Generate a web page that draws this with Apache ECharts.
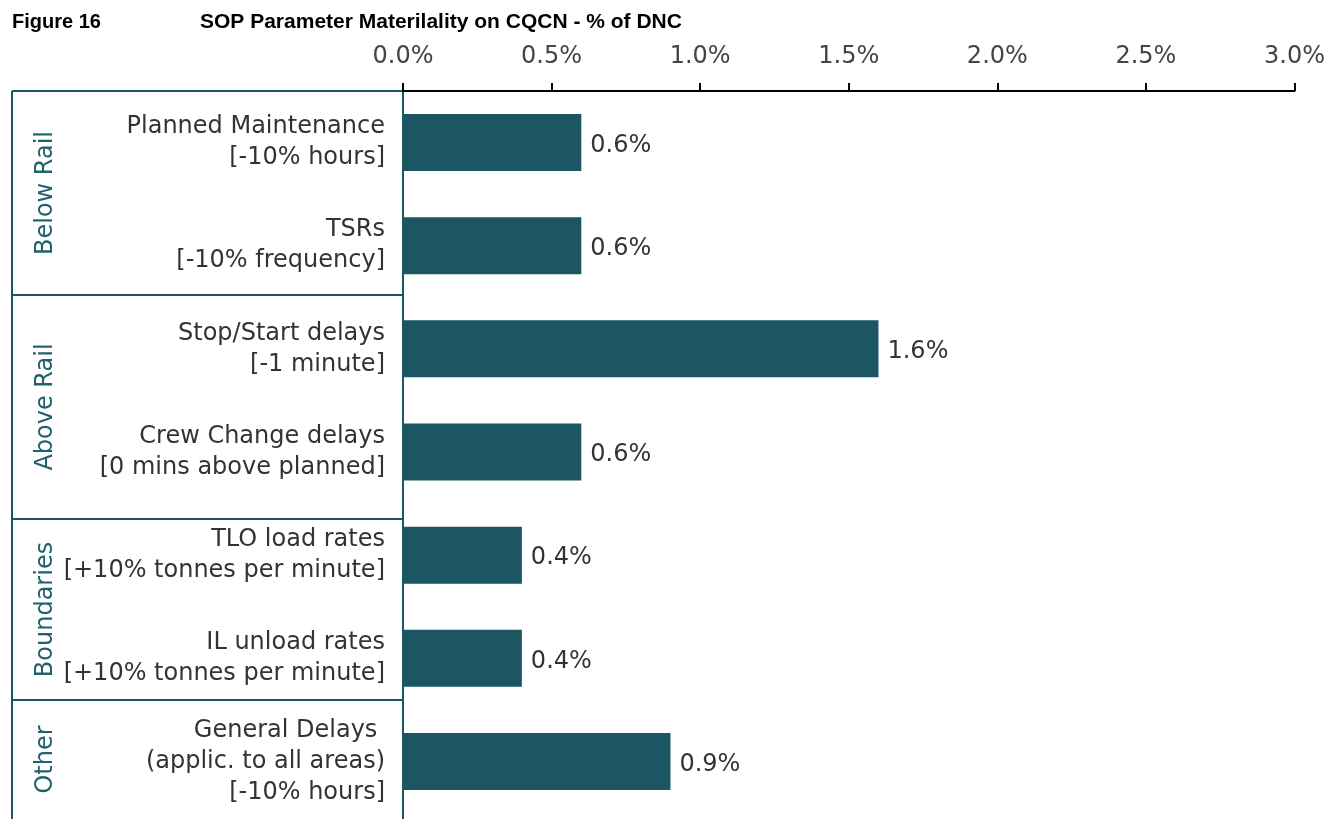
<!DOCTYPE html>
<html>
<head>
<meta charset="utf-8">
<title>SOP Parameter Materiality on CQCN</title>
<script src="https://cdn.jsdelivr.net/npm/echarts@6/dist/echarts.min.js"></script>
<style>
  html, body { margin: 0; padding: 0; background: #ffffff; }
  #chart { width: 1328px; height: 819px; }
</style>
</head>
<body>
<div id="chart"></div>
<script>
// Parameters tested, top to bottom
const categories = [
  'Planned Maintenance\n[-10% hours]',
  'TSRs\n[-10% frequency]',
  'Stop/Start delays\n[-1 minute]',
  'Crew Change delays\n[0 mins above planned]',
  'TLO load rates\n[+10% tonnes per minute]',
  'IL unload rates\n[+10% tonnes per minute]',
  'General Delays \n(applic. to all areas)\n[-10% hours]'
];
// Materiality, % of DNC
const values = [0.6, 0.6, 1.6, 0.6, 0.4, 0.4, 0.9];
// Axis ticks (%)
const xTicks = [0.0, 0.5, 1.0, 1.5, 2.0, 2.5, 3.0];
// Parameter groups shown in the left-hand box
const groups = ['Below Rail', 'Above Rail', 'Boundaries', 'Other'];

const TEAL = '#1c5662';
const TEXT = '#333333';
const FONT = '"DejaVu Sans", sans-serif';
const TITLE_FONT = '"Liberation Sans", Arial, sans-serif';

// Frame of the group box (pixel layout)
const boxLeft = 12, boxRight = 403, boxTop = 91, boxBottom = 819;
const dividers = [boxTop, 295, 519, 700, boxBottom];

const chart = echarts.init(document.getElementById('chart'), null, { renderer: 'canvas' });

const graphics = [
  { type: 'text', x: 12, y: 22,
    style: { text: 'Figure 16', font: 'bold 20px ' + TITLE_FONT, fill: '#000', verticalAlign: 'middle' } },
  { type: 'text', x: 200, y: 22,
    style: { text: 'SOP Parameter Materilality on CQCN - % of DNC', font: 'bold 21px ' + TITLE_FONT, fill: '#000', verticalAlign: 'middle' } },
  { type: 'line', shape: { x1: boxLeft, y1: boxTop, x2: boxLeft, y2: boxBottom },
    style: { stroke: TEAL, lineWidth: 2 } },
  { type: 'line', shape: { x1: boxRight, y1: boxTop, x2: boxRight, y2: boxBottom },
    style: { stroke: TEAL, lineWidth: 2 } }
];
dividers.slice(0, -1).forEach(y => {
  graphics.push({ type: 'line', shape: { x1: boxLeft, y1: y, x2: boxRight, y2: y },
    style: { stroke: TEAL, lineWidth: 2 } });
});
groups.forEach((g, i) => {
  graphics.push({
    type: 'text', x: 46, y: (dividers[i] + dividers[i + 1]) / 2, rotation: Math.PI / 2,
    style: { text: g, font: '24px ' + FONT, fill: '#21616d', align: 'center', verticalAlign: 'middle' }
  });
});

chart.setOption({
  animation: false,
  grid: { left: 403, right: 33, top: 91, bottom: 6, containLabel: false },
  xAxis: {
    type: 'value', position: 'top', min: xTicks[0], max: xTicks[xTicks.length - 1],
    interval: xTicks[1] - xTicks[0],
    axisLine: { show: true, lineStyle: { color: '#000', width: 2 } },
    axisTick: { show: true, length: 8, lineStyle: { color: '#000', width: 2 } },
    splitLine: { show: false },
    axisLabel: {
      margin: 22, fontSize: 24, color: '#444', fontFamily: FONT,
      formatter: v => v.toFixed(1) + '%'
    }
  },
  yAxis: {
    type: 'category', data: categories, inverse: true,
    axisLine: { show: true, lineStyle: { color: TEAL, width: 2 } },
    axisTick: { show: false },
    axisLabel: {
      margin: 18, fontSize: 24, lineHeight: 31, color: TEXT, fontFamily: FONT, align: 'right',
      padding: [6, 0, 0, 0]
    }
  },
  series: [{
    type: 'bar', data: values, barWidth: 57,
    itemStyle: { color: TEAL },
    label: {
      show: true, position: 'right', distance: 9, fontSize: 24, color: TEXT, fontFamily: FONT,
      offset: [0, 3],
      formatter: p => p.value.toFixed(1) + '%'
    }
  }],
  graphic: graphics
});
</script>
</body>
</html>
